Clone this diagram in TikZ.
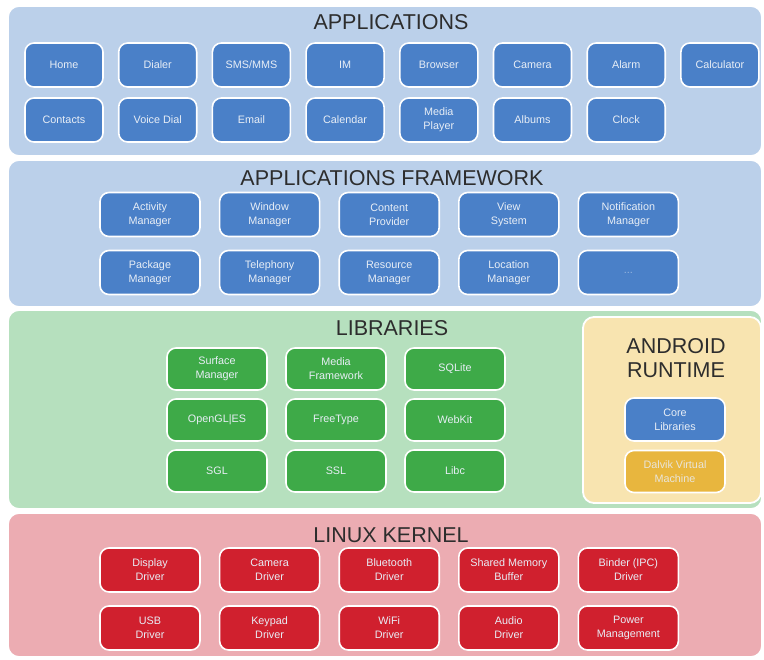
\documentclass[tikz,border=0pt]{standalone}
\usepackage{fontspec}
\setmainfont{Liberation Sans}
\definecolor{bluepanel}{RGB}{187,208,234}
\definecolor{bluebox}{RGB}{74,128,200}
\definecolor{greenpanel}{RGB}{182,224,190}
\definecolor{greenbox}{RGB}{62,170,72}
\definecolor{creampanel}{RGB}{248,228,176}
\definecolor{yellowbox}{RGB}{232,182,62}
\definecolor{redpanel}{RGB}{236,172,178}
\definecolor{redbox}{RGB}{208,32,46}
\definecolor{titlegray}{RGB}{45,45,45}
\definecolor{boxtext}{RGB}{232,238,246}
\tikzset{
  panel/.style={draw=white, line width=1.8pt, rounded corners=11pt},
  ttl/.style={font=\fontsize{21.5}{23}\selectfont, text=titlegray, align=center, inner sep=0pt},
  bx/.style={draw=white, line width=1.6pt, rounded corners=9pt, minimum width=100pt, minimum height=44pt,
     align=center, font=\fontsize{10.8}{14}\selectfont, text=boxtext, inner sep=1pt},
  appbx/.style={bx, fill=bluebox, minimum width=78pt},
  bbx/.style={bx, fill=bluebox},
  gbx/.style={bx, fill=greenbox, minimum height=42pt},
  ybx/.style={bx, fill=yellowbox, minimum height=42pt},
  rbx/.style={bx, fill=redbox},
}
\begin{document}
\begin{tikzpicture}[x=1pt,y=-1pt]
\useasboundingbox (0,0) rectangle (764,660);
\fill[white] (0,0) rectangle (764,660);
% panels
\draw[panel, fill=bluepanel] (8,6) rectangle (762,156);
\draw[panel, fill=bluepanel] (8,160) rectangle (762,307);
\draw[panel, fill=greenpanel] (8,310) rectangle (762,509);
\draw[panel, fill=creampanel] (583,317) rectangle (761,503);
\draw[panel, fill=redpanel] (8,513) rectangle (762,657);
% titles
\node[ttl] (tapp) at (391,22) {APPLICATIONS};
\node[ttl] (tfw) at (392,178) {APPLICATIONS FRAMEWORK};
\node[ttl] (tlib) at (392,328) {LIBRARIES};
\node[ttl, font=\fontsize{21.5}{23.5}\selectfont] (trt) at (676,358) {ANDROID\\RUNTIME};
\node[ttl] (tker) at (391,535) {LINUX KERNEL};
% applications
\node[appbx] (home) at (64,65) {Home};
\node[appbx] (dialer) at (157.7,65) {Dialer};
\node[appbx] (sms) at (251.4,65) {SMS/MMS};
\node[appbx] (im) at (345.1,65) {IM};
\node[appbx] (browser) at (438.8,65) {Browser};
\node[appbx] (camera) at (532.5,65) {Camera};
\node[appbx] (alarm) at (626.2,65) {Alarm};
\node[appbx] (calc) at (719.9,65) {Calculator};
\node[appbx] (contacts) at (64,120) {Contacts};
\node[appbx] (voice) at (157.7,120) {Voice Dial};
\node[appbx] (email) at (251.4,120) {Email};
\node[appbx] (calendar) at (345.1,120) {Calendar};
\node[appbx] (media) at (438.8,120) {Media\\Player};
\node[appbx] (albums) at (532.5,120) {Albums};
\node[appbx] (clock) at (626.2,120) {Clock};
% framework
\node[bbx] (am) at (150,214.5) {Activity\\Manager};
\node[bbx] (wm) at (269.6,214.5) {Window\\Manager};
\node[bbx] (cp) at (389.2,214.5) {Content\\Provider};
\node[bbx] (vs) at (508.8,214.5) {View\\System};
\node[bbx] (nm) at (628.4,214.5) {Notification\\Manager};
\node[bbx] (pm) at (150,272.5) {Package\\Manager};
\node[bbx] (tm) at (269.6,272.5) {Telephony\\Manager};
\node[bbx] (rm) at (389.2,272.5) {Resource\\Manager};
\node[bbx] (lm) at (508.8,272.5) {Location\\Manager};
\node[bbx, text=boxtext!50!bluebox] (etc) at (628.4,272.5) {...};
% libraries
\node[gbx] (sf) at (217,369) {Surface\\Manager};
\node[gbx] (mf) at (336,369) {Media\\Framework};
\node[gbx] (sql) at (455,369) {SQLite};
\node[gbx] (gl) at (217,420) {OpenGL|ES};
\node[gbx] (ft) at (336,420) {FreeType};
\node[gbx] (wk) at (455,420) {WebKit};
\node[gbx] (sgl) at (217,471) {SGL};
\node[gbx] (ssl) at (336,471) {SSL};
\node[gbx] (libc) at (455,471) {Libc};
% runtime
\node[bbx, minimum height=43pt] (core) at (675,419.5) {Core\\Libraries};
\node[ybx, text=boxtext!85!yellowbox] (dalvik) at (675,471.5) {Dalvik Virtual\\Machine};
% kernel
\node[rbx] (dd) at (150,570) {Display\\Driver};
\node[rbx] (cd) at (269.6,570) {Camera\\Driver};
\node[rbx] (bd) at (389.2,570) {Bluetooth\\Driver};
\node[rbx] (smb) at (508.8,570) {Shared Memory\\Buffer};
\node[rbx] (bin) at (628.4,570) {Binder (IPC)\\Driver};
\node[rbx] (usb) at (150,628) {USB\\Driver};
\node[rbx] (kd) at (269.6,628) {Keypad\\Driver};
\node[rbx] (wifi) at (389.2,628) {WiFi\\Driver};
\node[rbx] (ad) at (508.8,628) {Audio\\Driver};
\node[rbx] (pwr) at (628.4,628) {Power\\Management};
\end{tikzpicture}
\end{document}
